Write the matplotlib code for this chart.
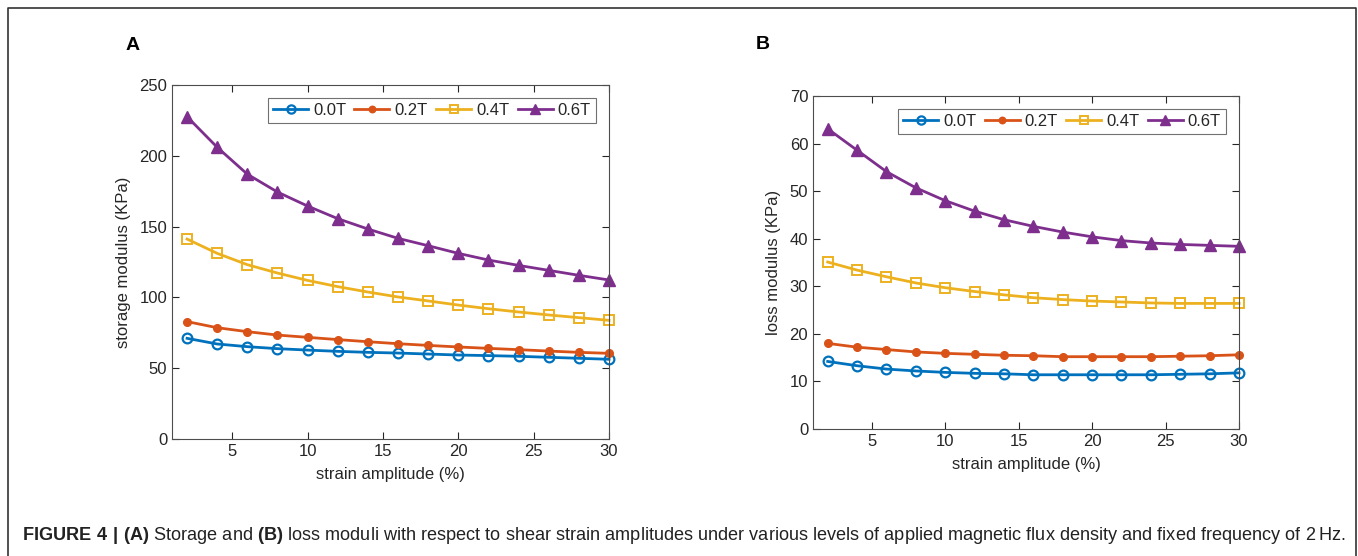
import numpy as np
import matplotlib.pyplot as plt
from matplotlib.lines import Line2D

plt.rcParams['font.family'] = ['Liberation Sans', 'DejaVu Sans']
plt.rcParams['mathtext.fontset'] = 'custom'
plt.rcParams['mathtext.rm'] = 'Liberation Sans'
plt.rcParams['mathtext.bf'] = 'Liberation Sans:bold'

strain = [2, 4, 6, 8, 10, 12, 14, 16, 18, 20, 22, 24, 26, 28, 30]
labels = ['0.0T', '0.2T', '0.4T', '0.6T']

storage_00 = [71.1, 67.1, 65.2, 63.8, 62.8, 61.9, 61.2, 60.7, 60.0, 59.3, 58.9, 58.4, 57.7, 57.0, 56.3]
storage_02 = [82.9, 78.6, 75.8, 73.4, 71.8, 70.2, 68.7, 67.3, 66.1, 65.0, 64.0, 63.1, 62.1, 61.2, 60.5]
storage_04 = [141.2, 131.1, 123.1, 117.2, 112.0, 107.6, 103.8, 100.3, 97.5, 94.6, 92.0, 89.7, 87.6, 85.7, 83.8]
storage_06 = [227.6, 206.0, 187.0, 174.4, 164.5, 155.6, 148.3, 141.7, 136.5, 131.1, 126.4, 122.6, 119.1, 115.6, 112.3]

loss_00 = [14.2, 13.3, 12.6, 12.2, 11.9, 11.7, 11.6, 11.4, 11.4, 11.4, 11.4, 11.4, 11.5, 11.6, 11.8]
loss_02 = [18.0, 17.2, 16.7, 16.2, 15.9, 15.7, 15.5, 15.4, 15.2, 15.2, 15.2, 15.2, 15.3, 15.4, 15.6]
loss_04 = [35.1, 33.4, 32.0, 30.7, 29.7, 28.9, 28.2, 27.6, 27.2, 26.9, 26.7, 26.5, 26.4, 26.4, 26.4]
loss_06 = [63.1, 58.6, 54.1, 50.7, 48.0, 45.8, 44.0, 42.6, 41.4, 40.4, 39.6, 39.1, 38.8, 38.6, 38.4]

colors = ['#0072BD', '#D95319', '#EDB120', '#7E2F8E']
styles = [dict(marker='o', mfc='none', ms=7, mew=1.6),
          dict(marker='.', ms=11),
          dict(marker='s', mfc='none', ms=7, mew=1.4),
          dict(marker='^', ms=9)]
axcol = '#262626'

fig = plt.figure(figsize=(13.58, 5.56), dpi=100)
W, H = 1358, 556


def box(l, t, r, b):
    return [l / W, 1 - b / H, (r - l) / W, (b - t) / H]


def draw(ax, series, ylim, yticks, ylabel):
    for s, c, st, lab in zip(series, colors, styles, labels):
        ax.plot(strain, s, color=c, lw=2, label=lab, clip_on=False, **st)
    ax.set_xlim(1, 30)
    ax.set_ylim(*ylim)
    ax.set_xticks([5, 10, 15, 20, 25, 30])
    ax.set_yticks(yticks)
    ax.tick_params(direction='in', top=True, right=True, labelsize=12,
                   colors=axcol, length=5, width=0.8)
    for sp in ax.spines.values():
        sp.set_color('#4d4d4d')
        sp.set_linewidth(0.8)
    ax.set_xlabel('strain amplitude (%)', fontsize=12, color=axcol, labelpad=6)
    ax.set_ylabel(ylabel, fontsize=12, color=axcol, labelpad=6)
    leg = ax.legend(ncol=4, loc='upper right', fontsize=12, frameon=True, fancybox=False,
                    handlelength=2.1, handletextpad=0.3, columnspacing=0.5,
                    borderpad=0.3, borderaxespad=0.8, labelcolor=axcol, markerscale=0.85)
    leg.get_frame().set_edgecolor('#4d4d4d')
    leg.get_frame().set_linewidth(0.8)


ax1 = fig.add_axes(box(172, 85, 609, 439))
draw(ax1, [storage_00, storage_02, storage_04, storage_06], (0, 250),
     [0, 50, 100, 150, 200, 250], 'storage modulus (KPa)')

ax2 = fig.add_axes(box(813, 96, 1239, 429))
draw(ax2, [loss_00, loss_02, loss_04, loss_06], (0, 70),
     [0, 10, 20, 30, 40, 50, 60, 70], 'loss modulus (KPa)')

fig.text(133 / W, 1 - 46 / H, 'A', fontsize=14, fontweight='bold', ha='center', va='center')
fig.text(763 / W, 1 - 45 / H, 'B', fontsize=14, fontweight='bold', ha='center', va='center')

# outer frame
fig.add_artist(Line2D([8 / W, 8 / W, 1356 / W, 1356 / W], [0, 1 - 8 / H, 1 - 8 / H, 0],
                      transform=fig.transFigure, color='#333333', lw=1.2))

fig.text(22 / W, 1 - 536 / H,
         r'$\mathbf{FIGURE\ 4\ |\ (A)}$ Storage and $\mathbf{(B)}$ loss moduli with respect to shear strain '
         r'amplitudes under various levels of applied magnetic flux density and fixed frequency of 2$\,$Hz.',
         fontsize=13.1, va='center', ha='left', color='#222222')

fig.savefig('out.png', dpi=100)
